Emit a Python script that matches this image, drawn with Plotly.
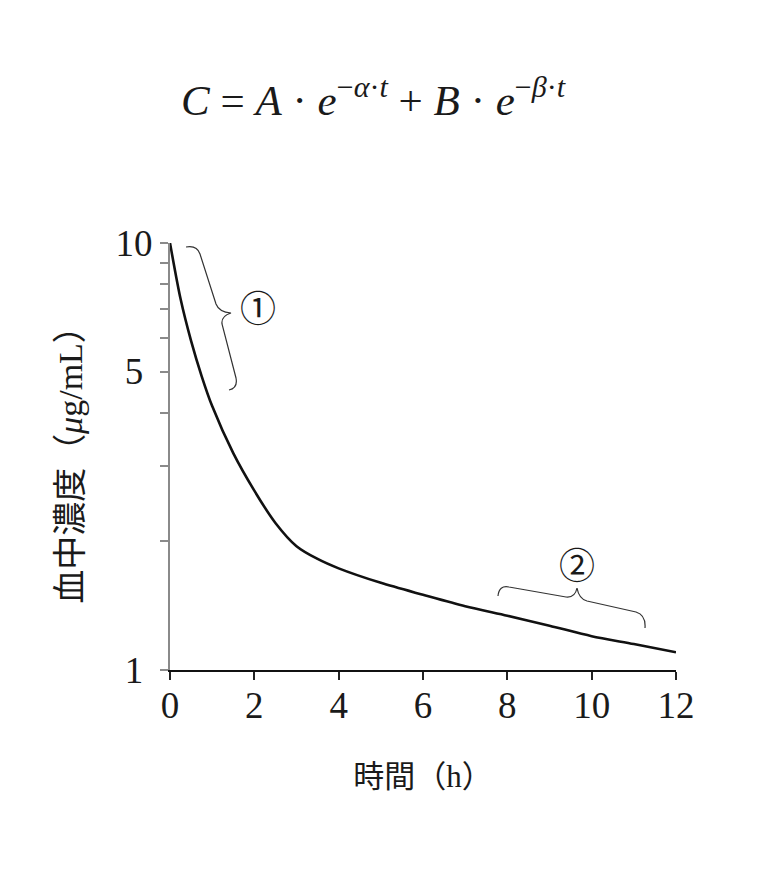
import plotly.graph_objects as go

# ---- data ----
time_h = [0, 0.25, 0.5, 0.75, 1, 1.5, 2, 2.5, 3, 3.5, 4, 5, 6, 7, 8, 9, 10, 11, 12]
conc = [10, 7.4, 5.9, 4.88, 4.15, 3.22, 2.63, 2.21, 1.95, 1.82, 1.73, 1.60, 1.50, 1.41, 1.34, 1.27, 1.20, 1.15, 1.10]

x_ticks = [0, 2, 4, 6, 8, 10, 12]
y_ticks = [1, 2, 3, 4, 5, 6, 7, 8, 9, 10]
NB = "\u00a0"
y_ticktext = ["1" + NB, "", "", "", "5" + NB, "", "", "", "", "10"]

W, H = 778, 885
OFF = 8  # page body margin
L, R, T, B = 170, 676, 243, 670  # plot area in page pixels

SERIF = "Liberation Serif, Times New Roman, Noto Sans CJK JP, serif"
CJK = "Liberation Serif, Noto Sans CJK JP, serif"


def p(px, py):
    return (px - L) / (R - L), (B - py) / (B - T)


def path(cmds):
    out = []
    for c in cmds:
        s = c[0]
        for (a, b) in c[1:]:
            xp, yp = p(a, b)
            s += " %.5f,%.5f" % (xp, yp)
        out.append(s)
    return " ".join(out)


brace1 = path([
    ("M", (186, 247)),
    ("Q", (197, 245), (200, 254)),
    ("L", (216, 304)),
    ("Q", (219, 312), (231, 313)),
    ("Q", (221, 316), (222, 324)),
    ("L", (236, 378)),
    ("Q", (238, 388), (229, 390)),
])
brace2 = path([
    ("M", (498, 596)),
    ("Q", (499, 585), (509, 587)),
    ("L", (566, 597)),
    ("Q", (575, 598), (577, 588)),
    ("Q", (579, 599), (587, 601)),
    ("L", (636, 612)),
    ("Q", (646, 615), (645, 628)),
])

fig = go.Figure()
fig.add_trace(go.Scatter(
    x=time_h, y=conc, mode="lines",
    line=dict(color="#111111", width=2.6, shape="spline", smoothing=0.8),
    hoverinfo="skip", showlegend=False,
))

fig.update_layout(
    width=W, height=H,
    margin=dict(l=L - OFF, r=W - R + OFF, t=T - OFF, b=H - B + OFF, pad=0),
    paper_bgcolor="white", plot_bgcolor="white",
    showlegend=False,
    font=dict(family=SERIF, size=31, color="#1a1a1a"),
    xaxis=dict(
        range=[0, 12], tickvals=x_ticks, ticks="outside", ticklen=8, tickwidth=1.5,
        tickcolor="#222", showline=True, linecolor="#111", linewidth=1.5,
        showgrid=False, zeroline=False, ticklabelstandoff=-6,
        tickfont=dict(family=SERIF, size=37, color="#1a1a1a"),
        title=dict(text="時間（h）", font=dict(family=CJK, size=31, color="#1a1a1a"), standoff=40),
    ),
    yaxis=dict(
        type="log", range=[0, 1], tickvals=y_ticks, ticktext=y_ticktext,
        ticks="outside", ticklen=8, tickwidth=1.5, tickcolor="#8a8a8a",
        showline=True, linecolor="#8a8a8a", linewidth=2,
        showgrid=False, zeroline=False, ticklabelstandoff=0,
        tickfont=dict(family=SERIF, size=37, color="#1a1a1a"),
        title=dict(text="血中濃度（<i>μ</i>g/mL）", font=dict(family=CJK, size=34, color="#1a1a1a"), standoff=23),
    ),
    shapes=[
        dict(type="path", path=brace1, xref="paper", yref="paper",
             line=dict(color="#333", width=1.2)),
        dict(type="path", path=brace2, xref="paper", yref="paper",
             line=dict(color="#333", width=1.2)),
    ],
    annotations=[
        dict(text="<i>C</i>" + NB + "=" + NB + "<i>A</i>" + NB + "·" + NB + "<i>e</i><sup>−<i>α</i>·<i>t</i></sup>"
                  + NB + "+" + NB + "<i>B</i>" + NB + "·" + NB + "<i>e</i><sup>−<i>β</i>·<i>t</i></sup>",
             x=p(373, 97)[0], y=p(373, 97)[1], xref="paper", yref="paper",
             showarrow=False, font=dict(family=SERIF, size=43, color="#1a1a1a"),
             xanchor="center", yanchor="middle"),
        dict(text="①", x=p(258, 306)[0], y=p(258, 306)[1], xref="paper", yref="paper",
             showarrow=False, font=dict(family="Noto Sans CJK JP", size=36, color="#1a1a1a"),
             xanchor="center", yanchor="middle"),
        dict(text="②", x=p(577, 563)[0], y=p(577, 563)[1], xref="paper", yref="paper",
             showarrow=False, font=dict(family="Noto Sans CJK JP", size=36, color="#1a1a1a"),
             xanchor="center", yanchor="middle"),
    ],
)

fig.write_html("out.html")
